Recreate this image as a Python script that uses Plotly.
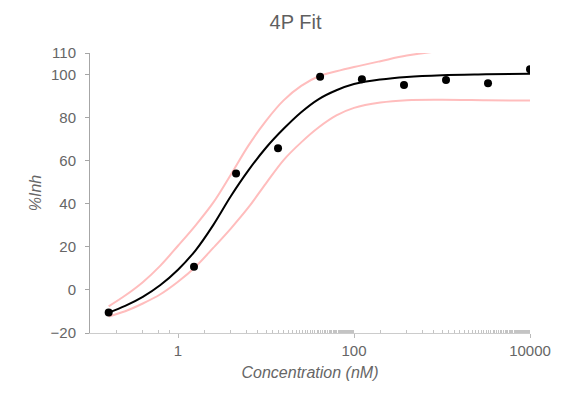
import plotly.graph_objects as go

# Measured data points
conc = [0.163, 1.52, 4.57, 13.7, 41.2, 123, 370, 1111, 3333, 10000]
inh = [-10.5, 10.8, 54.0, 65.8, 99.0, 97.8, 95.2, 97.5, 95.9, 102.4]

# Fitted curve and confidence bands
curve_conc = [0.163, 0.251, 0.398, 0.631, 1.0, 1.585, 2.512, 3.981, 6.31, 10.0,
              15.85, 25.12, 39.81, 63.1, 100, 199.5, 398.1, 1000, 3162, 10000]
fit = [-10.5, -7.4, -3.2, 2.3, 9.4, 18.4, 30.1, 43.5, 55.5, 66.0,
       74.8, 82.5, 88.6, 92.7, 95.6, 97.7, 98.9, 99.7, 100.1, 100.4]
upper = [-7.6, -2.6, 3.6, 11.3, 20.5, 30.0, 40.5, 53.5, 67.0, 78.5,
         88.0, 94.7, 99.2, 101.5, 103.5, 106.2, 108.8, 111.0, 112.5, 113.5]
lower = [-12.3, -9.9, -6.3, -2.0, 3.8, 10.8, 19.5, 28.5, 38.3, 49.5,
         60.3, 68.5, 75.5, 81.0, 84.5, 87.0, 88.1, 88.3, 88.1, 87.9]

y_ticks = [-20, 0, 20, 40, 60, 80, 100, 110]
x_ticks = [1, 100, 10000]
x_tick_labels = ["1", "100", "10000"]

minor_vals = ([round(0.2 * k, 1) for k in range(1, 5)]
              + [2 * k for k in range(1, 50)]
              + [200 * k for k in range(1, 50)])

band_color = "#ffbdbd"

fig = go.Figure()
fig.add_trace(go.Scatter(x=curve_conc, y=upper, mode="lines",
                         line=dict(color=band_color, width=2, shape="spline"),
                         hoverinfo="skip"))
fig.add_trace(go.Scatter(x=curve_conc, y=lower, mode="lines",
                         line=dict(color=band_color, width=2, shape="spline"),
                         hoverinfo="skip"))
fig.add_trace(go.Scatter(x=curve_conc, y=fit, mode="lines",
                         line=dict(color="black", width=2, shape="spline")))
fig.add_trace(go.Scatter(x=conc, y=inh, mode="markers",
                         marker=dict(color="black", size=8)))

# the page body has an 8px default margin, so the figure is offset by 8px
fig.update_layout(
    width=571, height=393,
    margin=dict(l=82, r=49, t=45, b=68),
    plot_bgcolor="white", paper_bgcolor="white",
    showlegend=False,
    font=dict(family="Liberation Sans, Arial, sans-serif", color="#666666"),
    title=dict(text="4P Fit", x=287.5 / 571, xref="container", xanchor="center",
               y=1 - 14 / 393, yref="container", yanchor="middle",
               font=dict(size=20, color="#5f5f5f")),
)

fig.update_xaxes(
    type="log", range=[-1, 4],
    tickmode="array", tickvals=x_ticks, ticktext=x_tick_labels,
    ticks="outside", ticklen=4, tickcolor="#bbbbbb",
    showline=True, linecolor="#cccccc", linewidth=1,
    showgrid=False, zeroline=False,
    tickfont=dict(size=15, color="#666666"),
    ticklabelstandoff=0,
    minor=dict(tickmode="array", tickvals=minor_vals, ticks="inside",
               ticklen=3, tickcolor="#c4c4c4", showgrid=False),
    title=dict(text="<i>Concentration (nM)</i>", font=dict(size=16, color="#666666"),
               standoff=8),
)
fig.update_yaxes(
    range=[-20, 110],
    tickmode="array", tickvals=y_ticks,
    ticks="outside", ticklen=4, tickcolor="#a6a6a6",
    showline=True, linecolor="#a6a6a6", linewidth=1,
    showgrid=False, zeroline=False,
    tickfont=dict(size=15, color="#666666"),
    ticklabelstandoff=6,
    title=dict(text="<i>%Inh</i>", font=dict(size=16, color="#666666"),
               standoff=4),
)

fig.write_html("out.html")
